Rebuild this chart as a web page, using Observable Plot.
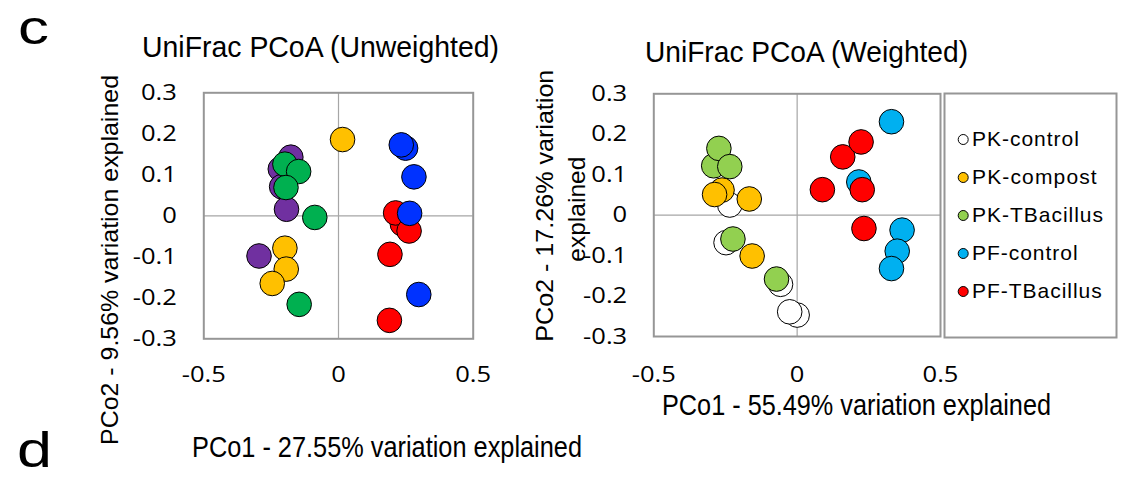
<!DOCTYPE html>
<html>
<head>
<meta charset="utf-8">
<script src="https://cdn.jsdelivr.net/npm/d3@7"></script>
<script src="https://cdn.jsdelivr.net/npm/@observablehq/plot@0.6"></script>
<style>
  html, body { margin: 0; padding: 0; background: #fff; }
  #wrap { position: relative; width: 1124px; height: 478px; overflow: hidden; background: #fff; }
  #wrap > svg, #wrap > .p { position: absolute; }
</style>
</head>
<body>
<div id="wrap"></div>
<script>
// ---------------- data ----------------
const groups = ["PK-control", "PK-compost", "PK-TBacillus", "PF-control", "PF-TBacillus"];
const unweightedColors = ["#7030A0", "#FFC000", "#00B050", "#0032FF", "#FF0000"];
const weightedColors = ["#FFFFFF", "#FFC000", "#92D050", "#00B0F0", "#FF0000"];

// Unweighted UniFrac (drawing order)
const uwGroup = [
  "PK-control","PK-control","PK-control","PK-control","PK-control",
  "PK-compost","PK-compost","PK-compost","PK-compost",
  "PK-TBacillus","PK-TBacillus","PK-TBacillus","PK-TBacillus","PK-TBacillus",
  "PF-TBacillus","PF-TBacillus","PF-TBacillus","PF-TBacillus","PF-TBacillus",
  "PF-control","PF-control","PF-control","PF-control","PF-control"
];
const uwPC1 = [
  -0.177, -0.216, -0.211, -0.193, -0.295,
  0.015, -0.199, -0.194, -0.246,
  -0.199, -0.148, -0.195, -0.088, -0.146,
  0.237, 0.212, 0.262, 0.191, 0.189,
  0.249, 0.233, 0.280, 0.264, 0.298
];
const uwPC2 = [
  0.143, 0.114, 0.071, 0.016, -0.098,
  0.186, -0.079, -0.130, -0.165,
  0.126, 0.108, 0.069, -0.004, -0.216,
  -0.020, 0.007, -0.037, -0.094, -0.255,
  0.165, 0.173, 0.095, 0.006, -0.192
];

// Weighted UniFrac (drawing order)
const wGroup = [
  "PK-control","PK-control","PK-control","PK-control","PK-control",
  "PK-compost","PK-compost","PK-compost","PK-compost",
  "PK-TBacillus","PK-TBacillus","PK-TBacillus","PK-TBacillus","PK-TBacillus",
  "PF-control","PF-control","PF-control","PF-control","PF-control",
  "PF-TBacillus","PF-TBacillus","PF-TBacillus","PF-TBacillus","PF-TBacillus"
];
const wPC1 = [
  -0.235, -0.248, -0.058, 0.000, -0.026,
  -0.262, -0.288, -0.167, -0.157,
  -0.291, -0.273, -0.235, -0.224, -0.072,
  0.329, 0.215, 0.366, 0.349, 0.329,
  0.159, 0.223, 0.088, 0.227, 0.233
];
const wPC2 = [
  0.025, -0.068, -0.171, -0.247, -0.239,
  0.062, 0.051, 0.040, -0.101,
  0.122, 0.165, 0.120, -0.059, -0.158,
  0.231, 0.082, -0.037, -0.089, -0.132,
  0.144, 0.181, 0.063, 0.063, -0.033
];

const xTicks = [-0.5, 0, 0.5];
const yTicks = [-0.3, -0.2, -0.1, 0, 0.1, 0.2, 0.3];

const uwTitle = "UniFrac PCoA (Unweighted)";
const wTitle = "UniFrac PCoA (Weighted)";
const uwXLabel = "PCo1 - 27.55% variation explained";
const uwYLabel = "PCo2 - 9.56% variation explained";
const wXLabel = "PCo1 - 55.49% variation explained";
const wYLabel1 = "PCo2 - 17.26% variation";
const wYLabel2 = "explained";

// ---------------- drawing ----------------
const wrap = document.getElementById("wrap");
const TICK_FONT = "'Open Sans', sans-serif";
const TEXT_FONT = "'Liberation Sans', Arial, sans-serif";
const fmt = d => String(d);

function scatter(rows, colors, o) {
  return Plot.plot({
    width: o.width, height: o.height,
    marginLeft: o.ml, marginRight: o.mr, marginTop: o.mt, marginBottom: o.mb,
    style: { background: "transparent", overflow: "visible" },
    x: { domain: [-0.5, 0.5] },
    y: { domain: [-0.3, 0.3] },
    color: { domain: groups, range: colors },
    marks: [
      Plot.ruleX([0], { stroke: "#a6a6a6", strokeWidth: 1.2 }),
      Plot.ruleY([0], { stroke: "#a6a6a6", strokeWidth: 1.2 }),
      Plot.frame({ stroke: "#969696", strokeWidth: 2 }),
      Plot.axisX(xTicks, { tickSize: 0, tickPadding: o.xpad, tickFormat: fmt, fontSize: 22, fontFamily: TICK_FONT, fill: "#000", label: null }),
      Plot.axisY(yTicks, { tickSize: 0, tickPadding: o.ypad, tickFormat: fmt, fontSize: 22, fontFamily: TICK_FONT, fill: "#000", label: null }),
      Plot.dot(rows, { x: "pc1", y: "pc2", fill: "group", stroke: "#000", strokeWidth: 1, r: 12.3, fillOpacity: 1 })
    ]
  });
}

const uwRows = uwGroup.map((g, i) => ({ group: g, pc1: uwPC1[i], pc2: uwPC2[i] }));
const wRows = wGroup.map((g, i) => ({ group: g, pc1: wPC1[i], pc2: wPC2[i] }));

const left = scatter(uwRows, unweightedColors, { width: 500, height: 400, ml: 203.3, mr: 27.3, mt: 92.3, mb: 61.7, xpad: 27.5, ypad: 27 });
left.style.left = "0px"; left.style.top = "0px";
wrap.appendChild(left);

const right = scatter(wRows, weightedColors, { width: 450, height: 400, ml: 153.3, mr: 10, mt: 93.3, mb: 64, xpad: 29.5, ypad: 26.6 });
right.style.left = "500px"; right.style.top = "0px";
wrap.appendChild(right);

const legend = Plot.plot({
  width: 180, height: 252,
  marginLeft: 4, marginRight: 4, marginTop: 4, marginBottom: 4,
  style: { background: "transparent", overflow: "visible" },
  y: { type: "point", domain: groups, range: [29.3, 222.7], axis: null },
  color: { domain: groups, range: weightedColors },
  marks: [
    Plot.frame({ stroke: "#969696", strokeWidth: 2 }),
    Plot.dot(groups, { y: d => d, fill: d => d, stroke: "#000", strokeWidth: 1, r: 5, frameAnchor: "left", dx: 18.7 }),
    Plot.text(groups, { y: d => d, text: d => d, frameAnchor: "left", dx: 27.5, textAnchor: "start", fontSize: 21, fontFamily: TEXT_FONT, fill: "#000" })
  ]
});
legend.style.left = "940px"; legend.style.top = "89px";
wrap.appendChild(legend);

// stretch tick labels (reference font is wide)
for (const svg of [left, right]) {
  svg.querySelectorAll('g[aria-label="x-axis tick label"] text, g[aria-label="y-axis tick label"] text').forEach(t => {
    const w = t.getComputedTextLength();
    t.setAttribute("textLength", (w * 1.16).toFixed(1));
    t.setAttribute("lengthAdjust", "spacingAndGlyphs");
  });
}
legend.querySelectorAll('g[aria-label="text"] text').forEach(t => {
  const w = t.getComputedTextLength();
  t.setAttribute("textLength", (w * 1.09).toFixed(1));
  t.setAttribute("lengthAdjust", "spacing");
});

// overlay for titles, axis labels and panel letters
const overlay = d3.create("svg")
  .attr("width", 1124).attr("height", 478)
  .style("left", "0px").style("top", "0px").style("pointer-events", "none")
  .attr("font-family", TEXT_FONT).attr("fill", "#000");

function label(txt, x, y, size, len, rot) {
  const t = overlay.append("text")
    .attr("transform", `translate(${x},${y})` + (rot ? ` rotate(${rot})` : ""))
    .attr("font-size", size)
    .attr("textLength", len)
    .attr("lengthAdjust", "spacingAndGlyphs")
    .text(txt);
  return t;
}
label("c", 18, 44, 48, 31);
label("d", 17, 467, 50, 35);
label(uwTitle, 142, 56.7, 29, 357);
label(wTitle, 645, 62.3, 29, 323);
label(uwYLabel, 118, 445, 24, 370, -90);
label(wYLabel1, 553, 341.7, 24, 272, -90);
label(wYLabel2, 585, 261.7, 24, 105, -90);
label(uwXLabel, 192, 457, 29, 390);
label(wXLabel, 662, 415, 29, 389);

wrap.appendChild(overlay.node());
</script>
</body>
</html>
